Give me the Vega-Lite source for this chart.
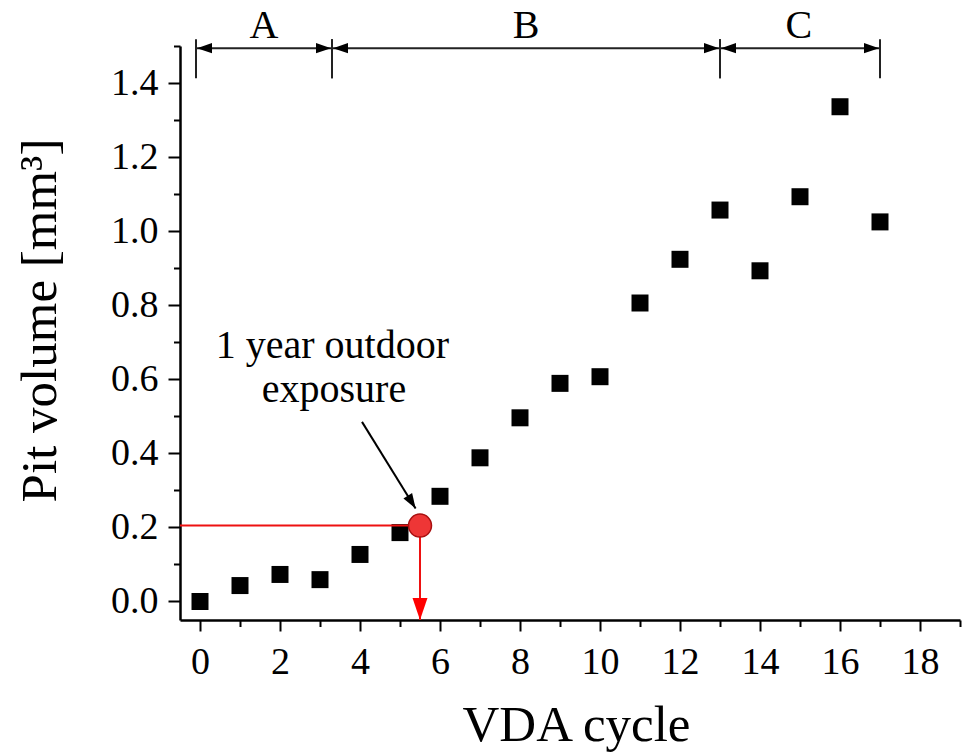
{
  "$schema": "https://vega.github.io/schema/vega-lite/v6.json",
  "autosize": "none",
  "width": 780,
  "height": 574,
  "padding": {"left": 180, "right": 7, "top": 46, "bottom": 135},
  "background": "white",
  "config": {
    "view": {"stroke": null},
    "axis": {"grid": false, "domainColor": "black", "tickColor": "black", "labelColor": "black", "titleColor": "black", "labelFont": "Liberation Serif", "titleFont": "Liberation Serif", "titleFontWeight": "normal"},
    "text": {"font": "Liberation Serif", "color": "black"}
  },
  "resolve": {"axis": {"x": "independent", "y": "independent"}},
  "datasets": {
    "pits": [
      {"cycle": 0, "volume": 0.0},
      {"cycle": 1, "volume": 0.043},
      {"cycle": 2, "volume": 0.073},
      {"cycle": 3, "volume": 0.059},
      {"cycle": 4, "volume": 0.127},
      {"cycle": 5, "volume": 0.186},
      {"cycle": 6, "volume": 0.284},
      {"cycle": 7, "volume": 0.388},
      {"cycle": 8, "volume": 0.496},
      {"cycle": 9, "volume": 0.589},
      {"cycle": 10, "volume": 0.607},
      {"cycle": 11, "volume": 0.806},
      {"cycle": 12, "volume": 0.924},
      {"cycle": 13, "volume": 1.057},
      {"cycle": 14, "volume": 0.893},
      {"cycle": 15, "volume": 1.093},
      {"cycle": 16, "volume": 1.336},
      {"cycle": 17, "volume": 1.025}
    ],
    "stages": [
      {"stage": "A", "start": -0.1, "end": 3.3, "mid": 1.6},
      {"stage": "B", "start": 3.3, "end": 13.0, "mid": 8.15},
      {"stage": "C", "start": 13.0, "end": 17.0, "mid": 14.97}
    ],
    "exposure": [
      {"cycle": 5.5, "volume": 0.205, "axisX": -0.5, "axisY": -0.05}
    ],
    "note": [
      {"line": "1 year outdoor", "x": 3.31, "y": 0.657},
      {"line": "exposure", "x": 3.35, "y": 0.538}
    ],
    "pointer": [
      {"x": 4.05, "y": 0.485, "tipX": 5.39, "tipY": 0.251}
    ]
  },
  "layer": [
    {
      "data": {"name": "pits"},
      "mark": {"type": "point", "shape": "square", "filled": true, "size": 289, "color": "black", "opacity": 1},
      "encoding": {
        "x": {"field": "cycle", "type": "quantitative",
          "scale": {"domain": [-0.5, 19], "nice": false, "zero": false},
          "axis": {"orient": "bottom", "values": [0, 2, 4, 6, 8, 10, 12, 14, 16, 18], "format": "d", "tickSize": 11, "tickWidth": 2, "domainWidth": 2.5, "labelFontSize": 38, "labelPadding": 12, "labelFlush": false, "labelOverlap": false,
            "title": "VDA cycle", "titleFontSize": 51, "titleBaseline": "alphabetic", "titleAlign": "center", "titleX": 396, "titleY": 120}},
        "y": {"field": "volume", "type": "quantitative",
          "scale": {"domain": [-0.05, 1.5], "nice": false, "zero": false},
          "axis": {"orient": "left", "values": [0, 0.2, 0.4, 0.6, 0.8, 1.0, 1.2, 1.4], "format": ".1f", "tickSize": 12, "tickWidth": 2, "domainWidth": 2.5, "labelFontSize": 38, "labelPadding": 10, "labelFlush": false, "labelOverlap": false,
            "title": "Pit volume [mm³]", "titleFontSize": 51, "titleAngle": 270, "titleBaseline": "alphabetic", "titleAlign": "center", "titleX": -125, "titleY": 274}}
      }
    },
    {
      "data": {"name": "exposure"},
      "mark": {"type": "rule", "color": "#ee1111", "strokeWidth": 2},
      "encoding": {
        "x": {"field": "axisX", "type": "quantitative",
          "axis": {"orient": "bottom", "values": [1, 3, 5, 7, 9, 11, 13, 15, 17, 19], "labels": false, "domain": false, "tickSize": 6.5, "tickWidth": 2, "title": null}},
        "x2": {"field": "cycle"},
        "y": {"field": "volume", "type": "quantitative",
          "axis": {"orient": "left", "values": [0.1, 0.3, 0.5, 0.7, 0.9, 1.1, 1.3, 1.5], "labels": false, "domain": false, "tickSize": 6.5, "tickWidth": 2, "title": null}}
      }
    },
    {
      "data": {"name": "exposure"},
      "mark": {"type": "rule", "color": "#ee1111", "strokeWidth": 2},
      "encoding": {
        "x": {"field": "cycle", "type": "quantitative", "axis": null},
        "y": {"field": "volume", "type": "quantitative", "axis": null},
        "y2": {"field": "axisY"}
      }
    },
    {
      "data": {"name": "exposure"},
      "mark": {"type": "point", "shape": "M0,-1L0.68,1L-0.68,1Z", "filled": true, "size": 484, "color": "#ff0000", "opacity": 1, "angle": 180, "yOffset": -11},
      "encoding": {
        "x": {"field": "cycle", "type": "quantitative", "axis": null},
        "y": {"field": "axisY", "type": "quantitative", "axis": null}
      }
    },
    {
      "data": {"name": "exposure"},
      "mark": {"type": "point", "shape": "circle", "filled": true, "size": 529, "fill": "#ee3636", "stroke": "#a81010", "strokeWidth": 1.5, "opacity": 1},
      "encoding": {
        "x": {"field": "cycle", "type": "quantitative", "axis": null},
        "y": {"field": "volume", "type": "quantitative", "axis": null}
      }
    },
    {
      "data": {"name": "pointer"},
      "mark": {"type": "rule", "color": "black", "strokeWidth": 2},
      "encoding": {
        "x": {"field": "x", "type": "quantitative", "axis": null},
        "y": {"field": "y", "type": "quantitative", "axis": null},
        "x2": {"field": "tipX"},
        "y2": {"field": "tipY"}
      }
    },
    {
      "data": {"name": "pointer"},
      "mark": {"type": "point", "shape": "M0,-1L0.68,1L-0.68,1Z", "filled": true, "size": 225, "color": "black", "opacity": 1, "angle": 148.4, "xOffset": -3.9, "yOffset": -6.4},
      "encoding": {
        "x": {"field": "tipX", "type": "quantitative", "axis": null},
        "y": {"field": "tipY", "type": "quantitative", "axis": null}
      }
    },
    {
      "data": {"name": "note"},
      "mark": {"type": "text", "fontSize": 40, "align": "center", "baseline": "alphabetic"},
      "encoding": {
        "x": {"field": "x", "type": "quantitative", "axis": null},
        "y": {"field": "y", "type": "quantitative", "axis": null},
        "text": {"field": "line"}
      }
    },
    {
      "data": {"name": "stages"},
      "mark": {"type": "rule", "color": "#222222", "strokeWidth": 2},
      "encoding": {
        "x": {"field": "start", "type": "quantitative", "axis": null},
        "x2": {"field": "end"},
        "y": {"datum": 1.494, "type": "quantitative", "axis": null}
      }
    },
    {
      "data": {"name": "stages"},
      "mark": {"type": "rule", "color": "#222222", "strokeWidth": 2},
      "encoding": {
        "x": {"field": "start", "type": "quantitative", "axis": null},
        "y": {"datum": 1.413, "type": "quantitative", "axis": null},
        "y2": {"datum": 1.518}
      }
    },
    {
      "data": {"name": "stages"},
      "mark": {"type": "rule", "color": "#222222", "strokeWidth": 2},
      "encoding": {
        "x": {"field": "end", "type": "quantitative", "axis": null},
        "y": {"datum": 1.413, "type": "quantitative", "axis": null},
        "y2": {"datum": 1.518}
      }
    },
    {
      "data": {"name": "stages"},
      "mark": {"type": "point", "shape": "M0,-1L0.68,1L-0.68,1Z", "filled": true, "size": 225, "color": "black", "opacity": 1, "angle": 270, "xOffset": 8.5},
      "encoding": {
        "x": {"field": "start", "type": "quantitative", "axis": null},
        "y": {"datum": 1.494, "type": "quantitative", "axis": null}
      }
    },
    {
      "data": {"name": "stages"},
      "mark": {"type": "point", "shape": "M0,-1L0.68,1L-0.68,1Z", "filled": true, "size": 225, "color": "black", "opacity": 1, "angle": 90, "xOffset": -8.5},
      "encoding": {
        "x": {"field": "end", "type": "quantitative", "axis": null},
        "y": {"datum": 1.494, "type": "quantitative", "axis": null}
      }
    },
    {
      "data": {"name": "stages"},
      "mark": {"type": "text", "fontSize": 40, "align": "center", "baseline": "alphabetic"},
      "encoding": {
        "x": {"field": "mid", "type": "quantitative", "axis": null},
        "y": {"datum": 1.522, "type": "quantitative", "axis": null},
        "text": {"field": "stage"}
      }
    }
  ]
}
